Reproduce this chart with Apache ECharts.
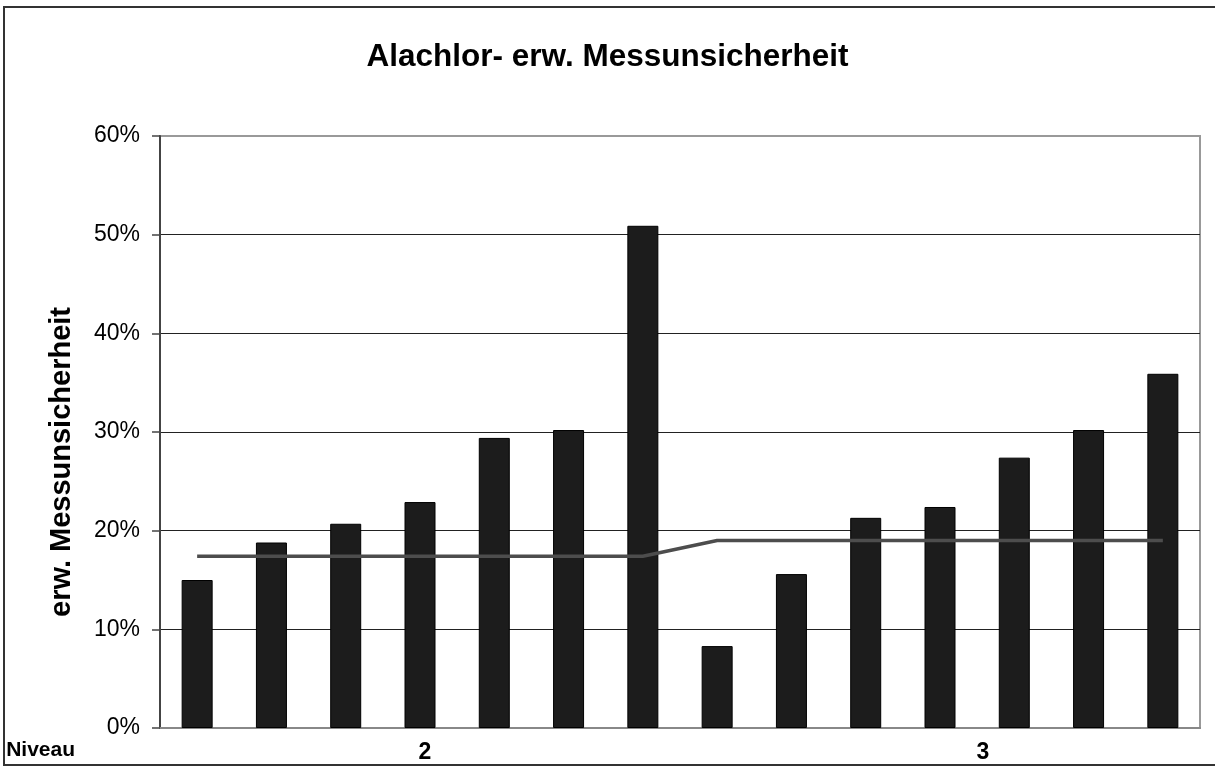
<!DOCTYPE html>
<html>
<head>
<meta charset="utf-8">
<script src="https://cdn.jsdelivr.net/npm/echarts@6/dist/echarts.min.js"></script>
<style>
  html, body { margin: 0; padding: 0; background: #fff; }
  #frame { position: absolute; left: 3px; top: 6px; width: 1216px; height: 760px; border: 2px solid #333; box-sizing: border-box; }
  #chart { position: absolute; left: 0; top: 0; width: 1215px; height: 770px; }
</style>
</head>
<body>
<div id="frame"></div>
<div id="chart"></div>
<script>
// measurement levels, one entry per bar
const levels = ['2', '2', '2', '2', '2', '2', '2', '3', '3', '3', '3', '3', '3', '3'];
// expanded measurement uncertainty per sample (%)
const uncertainty = [15.0, 18.8, 20.7, 22.9, 29.4, 30.2, 50.9, 8.3, 15.6, 21.3, 22.4, 27.4, 30.2, 35.9];
// mean uncertainty per level (%)
const levelMean = [17.4, 17.4, 17.4, 17.4, 17.4, 17.4, 17.4, 19.0, 19.0, 19.0, 19.0, 19.0, 19.0, 19.0];
// positions where the level label is written (near the middle of each group)
const labelIndex = [3, 10];

const font = '"Liberation Sans", Arial, sans-serif';

let chart = echarts.init(document.getElementById('chart'), null, { renderer: 'canvas' });
chart.setOption({
    animation: false,
    title: {
        text: 'Alachlor- erw. Messunsicherheit',
        left: 'center',
        top: 36,
        textStyle: { fontFamily: font, fontWeight: 'bold', fontSize: 31.5, color: '#000' }
    },
    grid: { left: 160, right: 15, top: 136, bottom: 42, containLabel: false,
            show: true, borderColor: '#999', borderWidth: 2 },
    xAxis: {
        type: 'category',
        data: levels,
        name: 'Niveau',
        nameLocation: 'start',
        nameGap: 85,
        nameTextStyle: { fontFamily: font, fontWeight: 'bold', fontSize: 21, color: '#000',
                         verticalAlign: 'top', padding: [12, 0, 0, 0] },
        axisLine: { lineStyle: { color: '#888', width: 2 } },
        axisTick: { show: false },
        axisLabel: {
            interval: 0,
            margin: 13,
            fontFamily: font, fontWeight: 'bold', fontSize: 23, color: '#000',
            formatter: (v, i) => {
                if (i === labelIndex[0]) return '{a|' + v + '}';
                if (i === labelIndex[1]) return '{b|' + v + '}';
                return '';
            },
            rich: {
                a: { fontFamily: font, fontWeight: 'bold', fontSize: 23, color: '#000', padding: [0, 0, 0, 10] },
                b: { fontFamily: font, fontWeight: 'bold', fontSize: 23, color: '#000', padding: [0, 0, 0, 86] }
            }
        },
        splitLine: { show: false }
    },
    yAxis: {
        type: 'value',
        min: 0,
        max: 60,
        interval: 10,
        name: 'erw. Messunsicherheit',
        nameLocation: 'middle',
        nameGap: 84,
        nameMoveOverlap: false,
        nameTextStyle: { fontFamily: font, fontWeight: 'bold', fontSize: 29, color: '#000',
                         padding: [0, 60, 0, 0] },
        axisLine: { show: true, lineStyle: { color: '#444', width: 2 } },
        axisTick: { show: true, length: 8, lineStyle: { color: '#444', width: 1.5 } },
        axisLabel: { margin: 20, fontFamily: font, fontSize: 23, color: '#000',
                     formatter: v => v + '%' },
        splitLine: { showMinLine: false, showMaxLine: false, lineStyle: { color: '#222', width: 1.2 } }
    },
    series: [
        {
            type: 'bar',
            data: uncertainty,
            barWidth: 31,
            itemStyle: { color: '#1c1c1c', borderColor: '#000', borderWidth: 1 },
            z: 2
        },
        {
            type: 'line',
            data: levelMean,
            showSymbol: false,
            symbol: 'none',
            lineStyle: { color: '#4d4d4d', width: 3.5 },
            z: 3
        }
    ]
});
</script>
</body>
</html>
